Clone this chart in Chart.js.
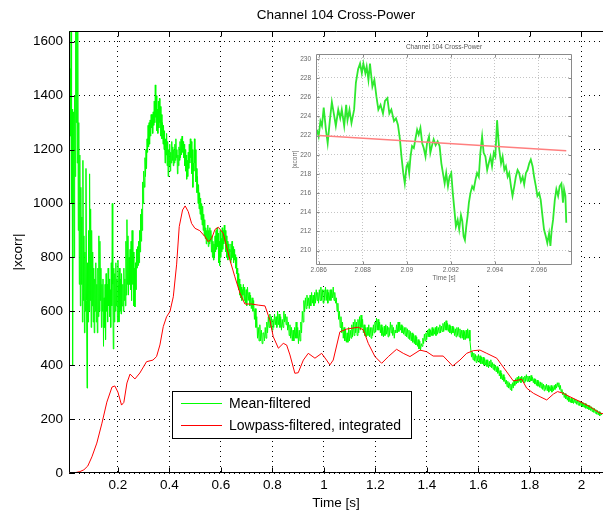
<!DOCTYPE html>
<html>
<head>
<meta charset="utf-8">
<title>Channel 104 Cross-Power</title>
<script src="https://cdn.jsdelivr.net/npm/chart.js@4.4.1/dist/chart.umd.min.js"></script>
<style>
  html, body { margin: 0; padding: 0; background: #fff; }
  #wrap { position: relative; width: 603px; height: 515px; overflow: hidden; }
  #mainChart { position: absolute; left: 0; top: 0; }
  #inset { position: absolute; left: 290px; top: 43px; width: 291px; height: 240px; background: #fff; }
</style>
</head>
<body>
<div id="wrap">
  <canvas id="mainChart" width="603" height="515"></canvas>
  <div id="inset"><canvas id="insetChart" width="291" height="240"></canvas></div>
</div>
<script>
// ---- data ----
const mainXTicks = [0.2, 0.4, 0.6, 0.8, 1.0, 1.2, 1.4, 1.6, 1.8, 2.0];
const mainYTicks = [0, 200, 400, 600, 800, 1000, 1200, 1400, 1600];
const insetXTicks = [2.086, 2.088, 2.090, 2.092, 2.094, 2.096];
const insetYTicks = [210, 212, 214, 216, 218, 220, 222, 224, 226, 228, 230];

// [time s, |xcorr|]
const lowpassIntegrated = [
  [0.010, 0], [0.033, 1], [0.052, 5], [0.068, 12], [0.083, 26], [0.099, 60], [0.118, 111],
  [0.138, 185], [0.157, 263], [0.177, 319], [0.188, 323], [0.200, 300], [0.214, 252], [0.223, 262],
  [0.235, 334], [0.247, 367], [0.266, 349], [0.285, 371], [0.311, 413], [0.336, 419], [0.350, 432],
  [0.363, 475], [0.376, 543], [0.389, 580], [0.402, 599], [0.415, 654], [0.428, 775], [0.438, 914],
  [0.451, 976], [0.461, 991], [0.473, 970], [0.486, 926], [0.499, 908], [0.518, 899], [0.538, 877],
  [0.551, 858], [0.564, 871], [0.577, 904], [0.590, 912], [0.609, 889], [0.635, 790], [0.654, 728],
  [0.674, 667], [0.693, 627], [0.719, 627], [0.745, 623], [0.771, 620], [0.790, 568], [0.803, 506],
  [0.823, 463], [0.842, 481], [0.855, 475], [0.868, 438], [0.887, 370], [0.900, 372], [0.920, 419],
  [0.939, 444], [0.965, 426], [0.991, 444], [1.010, 419], [1.023, 401], [1.036, 419], [1.062, 524],
  [1.088, 534], [1.133, 541], [1.153, 531], [1.172, 481], [1.198, 432], [1.224, 407], [1.250, 432],
  [1.282, 459], [1.308, 444], [1.334, 432], [1.373, 456], [1.399, 450], [1.424, 434], [1.463, 434],
  [1.500, 397], [1.528, 419], [1.554, 444], [1.580, 454], [1.606, 456], [1.632, 444], [1.671, 426],
  [1.690, 401], [1.710, 375], [1.735, 342], [1.755, 345], [1.768, 348], [1.787, 315], [1.813, 296],
  [1.839, 283], [1.865, 271], [1.891, 293], [1.907, 302], [1.929, 296], [1.955, 283], [1.994, 265],
  [2.033, 246], [2.072, 222], [2.084, 220]
];

const meanFiltered = [
  [0.010, 1700], [0.012, 700], [0.014, 1500], [0.016, 1250], [0.018, 1700], [0.020, 1000], [0.022, 1350],
  [0.024, 400], [0.026, 1000], [0.028, 1340], [0.030, 800], [0.032, 1400], [0.034, 1100], [0.036, 1700],
  [0.038, 1300], [0.040, 1700], [0.042, 1150], [0.044, 1700], [0.046, 900], [0.048, 1300], [0.050, 700],
  [0.052, 1180], [0.054, 620], [0.056, 1060], [0.058, 700], [0.060, 950], [0.062, 560], [0.064, 1160],
  [0.066, 640], [0.068, 880], [0.070, 520], [0.072, 820], [0.074, 600], [0.076, 1130], [0.078, 640],
  [0.080, 315], [0.082, 780], [0.084, 560], [0.086, 900], [0.088, 600], [0.090, 1110], [0.092, 640],
  [0.094, 980], [0.096, 540], [0.098, 900], [0.100, 620], [0.102, 820], [0.104, 560], [0.106, 760],
  [0.108, 520], [0.110, 720], [0.112, 600], [0.114, 780], [0.116, 560], [0.118, 700], [0.120, 520],
  [0.122, 760], [0.124, 580], [0.126, 880], [0.128, 600], [0.130, 860], [0.132, 640], [0.134, 760],
  [0.136, 540], [0.138, 700], [0.140, 600], [0.142, 720], [0.144, 470], [0.146, 650], [0.148, 540],
  [0.150, 700], [0.152, 495], [0.154, 740], [0.156, 600], [0.158, 700], [0.160, 560], [0.162, 760],
  [0.164, 620], [0.166, 720], [0.168, 580], [0.170, 680], [0.172, 540], [0.174, 780], [0.176, 620],
  [0.178, 1000], [0.180, 700], [0.182, 460], [0.184, 760], [0.186, 560], [0.188, 740], [0.190, 600],
  [0.192, 780], [0.194, 620], [0.196, 720], [0.198, 560], [0.200, 790],
  [0.202, 700], [0.204, 560], [0.206, 760], [0.208, 600], [0.210, 720], [0.212, 590], [0.214, 740],
  [0.216, 620], [0.219, 700], [0.221, 600], [0.223, 760], [0.225, 640], [0.227, 720], [0.229, 620],
  [0.231, 860], [0.233, 660], [0.235, 940], [0.237, 700], [0.239, 880], [0.241, 660], [0.243, 800],
  [0.245, 700], [0.247, 830], [0.249, 680], [0.251, 860], [0.253, 640], [0.255, 900], [0.258, 700],
  [0.260, 820], [0.262, 620], [0.264, 760], [0.266, 616], [0.268, 780], [0.270, 680], [0.272, 830],
  [0.274, 760], [0.276, 840], [0.278, 770], [0.280, 860], [0.282, 780], [0.284, 900], [0.286, 820],
  [0.288, 960], [0.290, 860], [0.292, 980], [0.294, 900], [0.296, 1080], [0.298, 1000], [0.300, 1120],
  [0.303, 1060], [0.305, 1170], [0.307, 1100], [0.309, 1200], [0.311, 1130], [0.313, 1240], [0.315, 1190],
  [0.317, 1290], [0.319, 1210], [0.321, 1300], [0.323, 1220], [0.325, 1310], [0.327, 1250], [0.329, 1330],
  [0.331, 1280], [0.333, 1330], [0.335, 1260], [0.337, 1340], [0.339, 1290], [0.341, 1380], [0.343, 1300],
  [0.345, 1440], [0.347, 1320], [0.349, 1400], [0.351, 1270], [0.353, 1350], [0.355, 1260], [0.357, 1380],
  [0.359, 1280], [0.361, 1390], [0.363, 1300], [0.365, 1360], [0.367, 1250], [0.369, 1330], [0.371, 1240],
  [0.373, 1300], [0.375, 1220], [0.377, 1290], [0.379, 1200], [0.381, 1270], [0.383, 1150], [0.385, 1240],
  [0.387, 1180], [0.389, 1260], [0.391, 1140], [0.393, 1230], [0.395, 1100], [0.397, 1200], [0.399, 1140],
  [0.401, 1220], [0.403, 1120], [0.405, 1190], [0.407, 1150], [0.409, 1230], [0.411, 1160], [0.413, 1210],
  [0.415, 1140], [0.417, 1200], [0.419, 1150], [0.421, 1220], [0.423, 1160], [0.425, 1240], [0.427, 1170],
  [0.429, 1200], [0.431, 1110], [0.433, 1180], [0.435, 1140], [0.437, 1210], [0.439, 1160], [0.441, 1230],
  [0.443, 1170], [0.445, 1240], [0.447, 1180], [0.449, 1250], [0.451, 1190], [0.453, 1230], [0.455, 1170],
  [0.457, 1220], [0.459, 1140], [0.461, 1200], [0.463, 1120], [0.465, 1180], [0.467, 1090], [0.469, 1160],
  [0.471, 1100], [0.473, 1190], [0.475, 1130], [0.477, 1220], [0.479, 1150], [0.481, 1240], [0.483, 1170],
  [0.485, 1230], [0.487, 1110], [0.489, 1200], [0.491, 1060], [0.493, 1150], [0.495, 1120], [0.497, 1240],
  [0.499, 1150], [0.501, 1200], [0.503, 1080], [0.505, 1130], [0.507, 1040], [0.509, 1100], [0.511, 1000],
  [0.513, 1070], [0.515, 980], [0.517, 1040], [0.519, 960], [0.521, 1020], [0.523, 940], [0.525, 1000],
  [0.527, 920], [0.529, 990], [0.531, 900], [0.533, 960], [0.535, 880], [0.537, 940], [0.539, 870],
  [0.541, 910], [0.543, 850], [0.545, 900], [0.547, 860], [0.549, 920], [0.551, 840], [0.553, 900],
  [0.555, 850], [0.557, 910], [0.559, 860], [0.561, 900], [0.563, 820], [0.565, 880], [0.567, 800],
  [0.569, 860], [0.571, 790], [0.573, 850], [0.575, 800], [0.577, 880], [0.579, 820], [0.581, 900],
  [0.583, 830], [0.585, 910], [0.587, 840], [0.589, 890], [0.591, 780], [0.593, 860], [0.595, 770],
  [0.597, 900], [0.599, 800], [0.601, 870], [0.603, 820], [0.605, 910], [0.607, 830], [0.609, 900],
  [0.611, 850], [0.613, 920], [0.615, 860], [0.617, 900], [0.619, 820], [0.621, 880], [0.623, 800],
  [0.625, 860], [0.627, 790], [0.629, 850], [0.631, 800], [0.633, 830], [0.635, 820], [0.637, 780],
  [0.639, 850], [0.641, 790], [0.643, 860], [0.645, 800], [0.647, 840], [0.649, 780], [0.651, 830],
  [0.653, 790], [0.655, 810], [0.657, 760], [0.659, 800], [0.661, 740], [0.663, 760], [0.665, 700],
  [0.667, 740], [0.669, 680], [0.671, 720], [0.673, 660], [0.675, 700], [0.677, 650], [0.679, 690],
  [0.681, 640], [0.683, 680], [0.685, 660], [0.687, 700], [0.690, 640], [0.692, 690], [0.695, 630],
  [0.698, 680], [0.700, 620], [0.703, 690], [0.706, 640], [0.709, 670], [0.712, 620], [0.715, 660],
  [0.718, 610], [0.721, 650], [0.724, 600], [0.727, 640], [0.730, 570], [0.733, 610], [0.736, 540],
  [0.739, 580], [0.742, 500], [0.745, 540], [0.748, 490], [0.751, 550], [0.754, 490], [0.757, 530],
  [0.760, 480], [0.763, 520], [0.766, 520], [0.769, 490], [0.772, 540], [0.775, 500], [0.778, 560],
  [0.781, 520], [0.784, 580], [0.787, 540], [0.790, 590], [0.793, 540], [0.796, 580], [0.799, 530],
  [0.802, 570], [0.805, 540], [0.808, 590], [0.811, 550], [0.814, 580], [0.817, 540], [0.820, 600],
  [0.823, 550], [0.826, 590], [0.829, 540], [0.832, 580], [0.835, 530], [0.838, 570], [0.841, 540],
  [0.844, 600], [0.847, 560], [0.850, 590], [0.853, 550], [0.856, 580], [0.859, 530], [0.862, 560],
  [0.865, 510], [0.868, 550], [0.871, 500], [0.874, 540], [0.877, 490], [0.880, 530], [0.883, 490],
  [0.886, 540], [0.889, 500], [0.892, 560], [0.895, 500], [0.898, 540], [0.901, 480], [0.904, 530],
  [0.907, 490], [0.910, 560], [0.913, 520], [0.916, 600], [0.919, 560], [0.922, 640], [0.925, 600],
  [0.928, 650], [0.931, 610], [0.934, 660], [0.937, 620], [0.940, 650], [0.943, 610], [0.946, 660],
  [0.949, 620], [0.952, 670], [0.955, 630], [0.958, 660], [0.961, 620], [0.964, 670], [0.967, 630],
  [0.970, 680], [0.973, 640], [0.976, 670], [0.979, 630], [0.982, 680], [0.985, 640], [0.988, 690],
  [0.991, 640], [0.994, 680], [0.997, 630], [1.000, 680], [1.003, 640], [1.006, 690], [1.009, 640],
  [1.012, 680], [1.015, 630], [1.018, 670], [1.021, 640], [1.024, 680], [1.027, 640], [1.030, 680],
  [1.033, 650], [1.036, 690], [1.039, 640], [1.042, 670], [1.045, 630], [1.048, 650], [1.051, 600],
  [1.054, 630], [1.057, 570], [1.060, 600], [1.063, 540], [1.066, 580], [1.069, 520], [1.072, 560],
  [1.075, 500], [1.078, 540], [1.081, 490], [1.084, 530], [1.087, 485], [1.090, 520], [1.093, 485],
  [1.096, 540], [1.099, 490], [1.102, 530], [1.105, 500], [1.108, 550], [1.111, 505], [1.114, 560],
  [1.117, 510], [1.120, 570], [1.123, 520], [1.126, 560], [1.129, 510], [1.132, 570], [1.135, 520],
  [1.138, 580], [1.141, 530], [1.144, 586], [1.147, 540], [1.150, 570], [1.153, 520], [1.156, 550],
  [1.159, 510], [1.162, 540], [1.165, 505], [1.168, 540], [1.171, 510], [1.174, 550], [1.177, 505],
  [1.180, 540], [1.183, 500], [1.186, 540], [1.189, 510], [1.192, 550], [1.195, 520], [1.198, 560],
  [1.201, 525], [1.204, 575], [1.207, 530], [1.210, 570], [1.213, 530], [1.216, 560], [1.219, 520],
  [1.222, 550], [1.225, 510], [1.228, 540], [1.231, 505], [1.234, 545], [1.237, 510], [1.240, 550],
  [1.243, 515], [1.246, 545], [1.249, 505], [1.252, 540], [1.255, 510], [1.258, 560], [1.261, 520],
  [1.264, 550], [1.267, 510], [1.270, 540], [1.273, 500], [1.276, 530], [1.279, 520], [1.282, 550],
  [1.285, 520], [1.288, 560], [1.291, 525], [1.294, 560], [1.297, 530], [1.300, 550], [1.303, 520],
  [1.306, 545], [1.309, 515], [1.312, 540], [1.315, 510], [1.318, 540], [1.321, 505], [1.324, 535],
  [1.327, 500], [1.330, 530], [1.333, 495], [1.336, 525], [1.339, 490], [1.342, 520], [1.345, 485],
  [1.348, 515], [1.351, 480], [1.354, 510], [1.357, 475], [1.360, 505], [1.363, 470], [1.366, 495],
  [1.369, 460], [1.372, 490], [1.375, 455], [1.378, 480], [1.381, 470], [1.384, 500], [1.387, 480],
  [1.390, 515], [1.393, 490], [1.396, 520], [1.399, 495], [1.402, 530], [1.405, 505], [1.408, 535],
  [1.411, 505], [1.414, 530], [1.417, 510], [1.420, 540], [1.423, 510], [1.426, 535], [1.429, 515],
  [1.432, 540], [1.435, 510], [1.438, 545], [1.441, 515], [1.444, 540], [1.447, 520], [1.450, 550],
  [1.453, 520], [1.456, 545], [1.459, 525], [1.462, 555], [1.465, 525], [1.468, 560], [1.471, 530],
  [1.474, 565], [1.477, 530], [1.480, 555], [1.483, 525], [1.486, 550], [1.489, 520], [1.492, 545],
  [1.495, 515], [1.498, 545], [1.501, 520], [1.504, 540], [1.507, 510], [1.510, 535], [1.513, 505],
  [1.516, 540], [1.519, 510], [1.522, 540], [1.525, 505], [1.528, 535], [1.531, 500], [1.534, 530],
  [1.537, 500], [1.540, 530], [1.543, 495], [1.546, 525], [1.549, 495], [1.552, 530], [1.555, 500],
  [1.558, 535], [1.561, 500], [1.564, 530], [1.567, 490], [1.570, 460], [1.573, 430], [1.576, 450],
  [1.579, 420], [1.582, 445], [1.585, 415], [1.588, 440], [1.591, 410], [1.594, 435], [1.597, 415],
  [1.600, 440], [1.603, 410], [1.606, 435], [1.609, 405], [1.612, 430], [1.615, 405], [1.618, 430],
  [1.621, 400], [1.624, 425], [1.627, 400], [1.630, 420], [1.633, 395], [1.636, 420], [1.639, 390],
  [1.642, 415], [1.645, 395], [1.648, 420], [1.651, 390], [1.654, 410], [1.657, 385], [1.660, 405],
  [1.663, 380], [1.666, 400], [1.669, 375], [1.672, 395], [1.675, 370], [1.678, 390], [1.681, 360],
  [1.684, 380], [1.687, 350], [1.690, 370], [1.693, 345], [1.696, 365], [1.699, 340], [1.702, 355],
  [1.705, 330], [1.708, 345], [1.711, 320], [1.714, 340], [1.717, 315], [1.720, 335], [1.723, 310],
  [1.726, 330], [1.729, 305], [1.732, 335], [1.735, 315], [1.738, 345], [1.741, 325], [1.744, 350],
  [1.747, 330], [1.750, 355], [1.753, 335], [1.756, 360], [1.759, 340], [1.762, 355], [1.765, 335],
  [1.768, 360], [1.771, 340], [1.774, 355], [1.777, 335], [1.780, 360], [1.783, 340], [1.786, 365],
  [1.789, 340], [1.792, 360], [1.795, 340], [1.798, 358], [1.801, 340], [1.804, 362], [1.807, 342],
  [1.810, 355], [1.813, 335], [1.816, 350], [1.819, 330], [1.822, 348], [1.825, 325], [1.828, 345],
  [1.831, 322], [1.834, 340], [1.837, 318], [1.840, 338], [1.843, 315], [1.846, 335], [1.849, 310],
  [1.852, 330], [1.855, 305], [1.858, 325], [1.861, 310], [1.864, 330], [1.867, 305], [1.870, 325],
  [1.873, 300], [1.876, 320], [1.879, 305], [1.882, 325], [1.885, 300], [1.888, 320], [1.891, 305],
  [1.894, 325], [1.897, 310], [1.900, 330], [1.903, 315], [1.906, 335], [1.909, 320], [1.912, 335],
  [1.915, 310], [1.918, 325], [1.921, 300], [1.924, 310], [1.927, 290], [1.930, 300], [1.933, 280],
  [1.936, 295], [1.939, 275], [1.942, 290], [1.945, 270], [1.948, 285], [1.951, 265], [1.954, 280],
  [1.957, 262], [1.960, 278], [1.963, 260], [1.966, 276], [1.969, 258], [1.972, 275], [1.975, 260],
  [1.978, 272], [1.981, 255], [1.984, 270], [1.987, 252], [1.990, 268], [1.993, 250], [1.996, 265],
  [1.999, 248], [2.002, 262], [2.005, 245], [2.008, 260], [2.011, 243], [2.014, 258], [2.017, 240],
  [2.020, 255], [2.023, 238], [2.026, 252], [2.029, 235], [2.032, 250], [2.035, 232], [2.038, 246],
  [2.041, 228], [2.044, 242], [2.047, 225], [2.050, 240], [2.053, 222], [2.056, 235], [2.059, 218],
  [2.062, 232], [2.065, 215], [2.068, 228], [2.071, 212], [2.074, 225], [2.077, 215], [2.080, 222]
];

// zoomed window 2.086 .. 2.097 s
const zoomLowpass = [[2.08600, 222.0], [2.09724, 220.4]];
const zoomMean = [
  [2.08592, 222.6], [2.08600, 221.9], [2.08608, 223.5], [2.08615, 223.0], [2.08623, 224.9], [2.08633, 222.6],
  [2.08641, 221.2], [2.08651, 223.6], [2.08660, 225.5], [2.08671, 224.0], [2.08678, 223.0], [2.08689, 224.7],
  [2.08698, 223.8], [2.08705, 224.7], [2.08716, 223.0], [2.08725, 225.2], [2.08731, 223.6], [2.08740, 224.7],
  [2.08749, 223.3], [2.08761, 224.7], [2.08769, 227.5], [2.08779, 228.9], [2.08788, 229.5], [2.08796, 228.5],
  [2.08803, 229.5], [2.08812, 228.5], [2.08818, 229.2], [2.08826, 227.8], [2.08833, 229.5], [2.08844, 227.1],
  [2.08853, 227.8], [2.08862, 226.1], [2.08871, 224.7], [2.08881, 225.2], [2.08892, 224.3], [2.08901, 225.6],
  [2.08912, 225.9], [2.08921, 224.3], [2.08930, 224.7], [2.08942, 223.5], [2.08951, 223.8], [2.08960, 223.1],
  [2.08969, 221.6], [2.08976, 219.8], [2.08984, 218.1], [2.08991, 217.0], [2.08999, 218.8], [2.09005, 219.1],
  [2.09011, 218.1], [2.09017, 219.8], [2.09024, 220.9], [2.09032, 220.7], [2.09039, 221.6], [2.09047, 222.6],
  [2.09054, 222.1], [2.09062, 222.8], [2.09070, 221.2], [2.09077, 220.7], [2.09085, 219.8], [2.09092, 221.2],
  [2.09101, 221.9], [2.09107, 220.2], [2.09115, 221.0], [2.09122, 221.6], [2.09131, 221.0], [2.09140, 221.4],
  [2.09149, 220.9], [2.09157, 219.1], [2.09164, 218.1], [2.09172, 217.0], [2.09179, 218.1], [2.09187, 216.7],
  [2.09194, 217.7], [2.09202, 218.1], [2.09209, 216.0], [2.09216, 214.3], [2.09223, 212.5], [2.09231, 213.2],
  [2.09238, 212.2], [2.09246, 213.7], [2.09252, 213.1], [2.09258, 211.5], [2.09264, 211.1], [2.09270, 212.5],
  [2.09276, 213.6], [2.09282, 215.0], [2.09289, 216.0], [2.09297, 216.7], [2.09304, 216.4], [2.09312, 217.4],
  [2.09319, 218.1], [2.09327, 217.7], [2.09334, 220.2], [2.09342, 221.9], [2.09349, 220.2], [2.09357, 219.8],
  [2.09365, 218.4], [2.09372, 219.1], [2.09380, 219.8], [2.09387, 218.8], [2.09395, 220.2], [2.09402, 219.8],
  [2.09410, 223.6], [2.09416, 221.6], [2.09420, 220.5], [2.09428, 219.1], [2.09435, 219.8], [2.09443, 218.4],
  [2.09450, 218.8], [2.09458, 217.7], [2.09465, 218.1], [2.09473, 216.7], [2.09480, 215.7], [2.09488, 216.7],
  [2.09495, 217.7], [2.09503, 218.4], [2.09510, 218.1], [2.09518, 217.2], [2.09526, 217.7], [2.09533, 216.9],
  [2.09541, 218.1], [2.09548, 218.4], [2.09556, 219.1], [2.09563, 219.5], [2.09571, 218.8], [2.09578, 217.7],
  [2.09586, 216.7], [2.09593, 215.7], [2.09601, 216.0], [2.09608, 215.3], [2.09616, 213.6], [2.09623, 212.2],
  [2.09631, 211.5], [2.09638, 210.8], [2.09646, 211.8], [2.09652, 210.5], [2.09658, 212.2], [2.09664, 213.2],
  [2.09672, 215.3], [2.09679, 216.4], [2.09687, 215.7], [2.09694, 216.7], [2.09702, 217.0], [2.09709, 215.0],
  [2.09714, 216.4], [2.09720, 215.7], [2.09724, 212.9]
];

// ---- drawing ----
const FONT = '"Liberation Sans", Arial, Helvetica, sans-serif';
const toXY = arr => arr.map(([x, y]) => ({ x, y }));
const oneDecimal = v => String(+(+v).toFixed(1));
const threeDecimals = v => String(+(+v).toFixed(3));
const plainInt = v => String(Math.round(v));

// MATLAB style box with inward ticks, optional title on top
function axesBox(opts) {
  return {
    id: 'axesBox',
    afterDatasetsDraw(chart) {
      const { ctx, chartArea: a, scales } = chart;
      const L = Math.round(a.left) + 0.5, T = Math.round(a.top) + 0.5;
      const R = Math.round(a.right) - 0.5, B = Math.round(a.bottom) - 0.5;
      ctx.save();
      ctx.strokeStyle = opts.color;
      ctx.lineWidth = 1;
      ctx.beginPath();
      ctx.moveTo(L, T); ctx.lineTo(opts.right ? R : a.right, T);
      ctx.moveTo(L, T); ctx.lineTo(L, B); ctx.lineTo(opts.right ? R : a.right, B);
      if (opts.right) { ctx.moveTo(R, T); ctx.lineTo(R, B); }
      scales.x.ticks.forEach(t => {
        const px = Math.round(scales.x.getPixelForValue(t.value)) + 0.5;
        ctx.moveTo(px, T); ctx.lineTo(px, T + opts.tick);
        ctx.moveTo(px, B); ctx.lineTo(px, B - opts.tick);
      });
      scales.y.ticks.forEach(t => {
        const py = Math.round(scales.y.getPixelForValue(t.value)) + 0.5;
        ctx.moveTo(L, py); ctx.lineTo(L + opts.tick, py);
        if (opts.right) { ctx.moveTo(R, py); ctx.lineTo(R - opts.tick, py); }
      });
      ctx.stroke();
      ctx.restore();
    },
    afterDraw(chart) {
      const { ctx, chartArea: a } = chart;
      ctx.save();
      ctx.fillStyle = opts.textColor;
      ctx.font = opts.titleFont;
      ctx.textAlign = 'center';
      ctx.textBaseline = 'middle';
      ctx.fillText(opts.title, (a.left + a.right) / 2, opts.titleY);
      if (opts.legend) {
        const lg = opts.legend;
        const x0 = a.left + lg.dx, y0 = a.top + lg.dy;
        ctx.fillStyle = '#fff';
        ctx.fillRect(x0, y0, lg.w, lg.h);
        ctx.strokeStyle = '#000';
        ctx.lineWidth = 1;
        ctx.strokeRect(x0 + 0.5, y0 + 0.5, lg.w, lg.h);
        ctx.font = lg.font;
        ctx.textAlign = 'left';
        lg.items.forEach((it, i) => {
          const yy = y0 + 12 + i * 22;
          ctx.strokeStyle = it.color;
          ctx.beginPath();
          ctx.moveTo(x0 + 9, yy + 0.5); ctx.lineTo(x0 + 50, yy + 0.5);
          ctx.stroke();
          ctx.fillStyle = '#000';
          ctx.fillText(it.label, x0 + 57, yy + 1);
        });
      }
      ctx.restore();
    }
  };
}

const mainFont = { family: FONT, size: 13.5 };

new Chart(document.getElementById('mainChart'), {
  type: 'line',
  data: {
    datasets: [
      { label: 'Lowpass-filtered, integrated', data: toXY(lowpassIntegrated), borderColor: '#ff0000',
        borderWidth: 1, pointRadius: 0, tension: 0, order: 0 },
      { label: 'Mean-filtered', data: toXY(meanFiltered), borderColor: '#00ff00',
        borderWidth: 1, pointRadius: 0, tension: 0, order: 1 }
    ]
  },
  options: {
    responsive: false,
    animation: false,
    devicePixelRatio: 1,
    parsing: false,
    layout: { padding: { top: 31, left: 0, right: 0, bottom: 0 } },
    plugins: { legend: { display: false }, tooltip: { enabled: false }, title: { display: false } },
    scales: {
      x: {
        type: 'linear', min: 0.01, max: 2.0835,
        afterBuildTicks: s => { s.ticks = mainXTicks.map(v => ({ value: v })); },
        afterFit: s => { s.height = 42; },
        ticks: { callback: oneDecimal, color: '#000', font: mainFont, padding: 4, maxRotation: 0, autoSkip: false },
        grid: { color: '#000', lineWidth: 1, drawTicks: false },
        border: { display: false, dash: [1, 4] },
        title: { display: true, text: 'Time [s]', color: '#000', font: mainFont, padding: { top: 0, bottom: 4 } }
      },
      y: {
        type: 'linear', min: 0, max: 1640,
        afterBuildTicks: s => { s.ticks = mainYTicks.map(v => ({ value: v })); },
        afterFit: s => { s.width = 69; },
        ticks: { callback: plainInt, color: '#000', font: mainFont, padding: 6, autoSkip: false },
        grid: { color: '#000', lineWidth: 1, drawTicks: false },
        border: { display: false, dash: [1, 4] },
        title: { display: true, text: '|xcorr|', color: '#000', font: mainFont, padding: { top: 10, bottom: 0 } }
      }
    }
  },
  plugins: [axesBox({
    color: '#000', tick: 5, right: false, textColor: '#000',
    title: 'Channel 104 Cross-Power', titleFont: '13.5px ' + FONT, titleY: 15,
    legend: {
      dx: 103, dy: 360, w: 239, h: 47, font: '14px ' + FONT,
      items: [
        { label: 'Mean-filtered', color: '#00ff00' },
        { label: 'Lowpass-filtered, integrated', color: '#ff0000' }
      ]
    }
  })]
});

const insetFont = { family: FONT, size: 6.5 };

new Chart(document.getElementById('insetChart'), {
  type: 'line',
  data: {
    datasets: [
      { label: 'Lowpass-filtered, integrated', data: toXY(zoomLowpass), borderColor: '#ff7f7f',
        borderWidth: 1.5, pointRadius: 0, tension: 0, order: 0 },
      { label: 'Mean-filtered', data: toXY(zoomMean), borderColor: '#2ee82e',
        borderWidth: 1.8, pointRadius: 0, tension: 0, order: 1 }
    ]
  },
  options: {
    responsive: false,
    animation: false,
    devicePixelRatio: 1,
    parsing: false,
    layout: { padding: { top: 11, left: 0, right: 9, bottom: 0 } },
    plugins: { legend: { display: false }, tooltip: { enabled: false }, title: { display: false } },
    scales: {
      x: {
        type: 'linear', min: 2.08588, max: 2.0975,
        afterBuildTicks: s => { s.ticks = insetXTicks.map(v => ({ value: v })); },
        afterFit: s => { s.height = 18; },
        ticks: { callback: threeDecimals, color: '#666', font: insetFont, padding: 1, maxRotation: 0, autoSkip: false },
        grid: { color: '#c4c4c4', lineWidth: 1, drawTicks: false },
        border: { display: false, dash: [1, 2] },
        title: { display: true, text: 'Time [s]', color: '#666', font: insetFont, padding: { top: 0, bottom: 1 } }
      },
      y: {
        type: 'linear', min: 208.5, max: 230.5,
        afterBuildTicks: s => { s.ticks = insetYTicks.map(v => ({ value: v })); },
        afterFit: s => { s.width = 26; },
        ticks: { callback: plainInt, color: '#666', font: insetFont, padding: 5, autoSkip: false },
        grid: { color: '#c4c4c4', lineWidth: 1, drawTicks: false },
        border: { display: false, dash: [1, 2] },
        title: { display: true, text: '|xcorr|', color: '#666', font: insetFont, padding: { top: 1, bottom: 0 } }
      }
    }
  },
  plugins: [axesBox({
    color: '#8a8a8a', tick: 3, right: true, textColor: '#555',
    title: 'Channel 104 Cross-Power', titleFont: '6.5px ' + FONT, titleY: 4
  })]
});
</script>
</body>
</html>
